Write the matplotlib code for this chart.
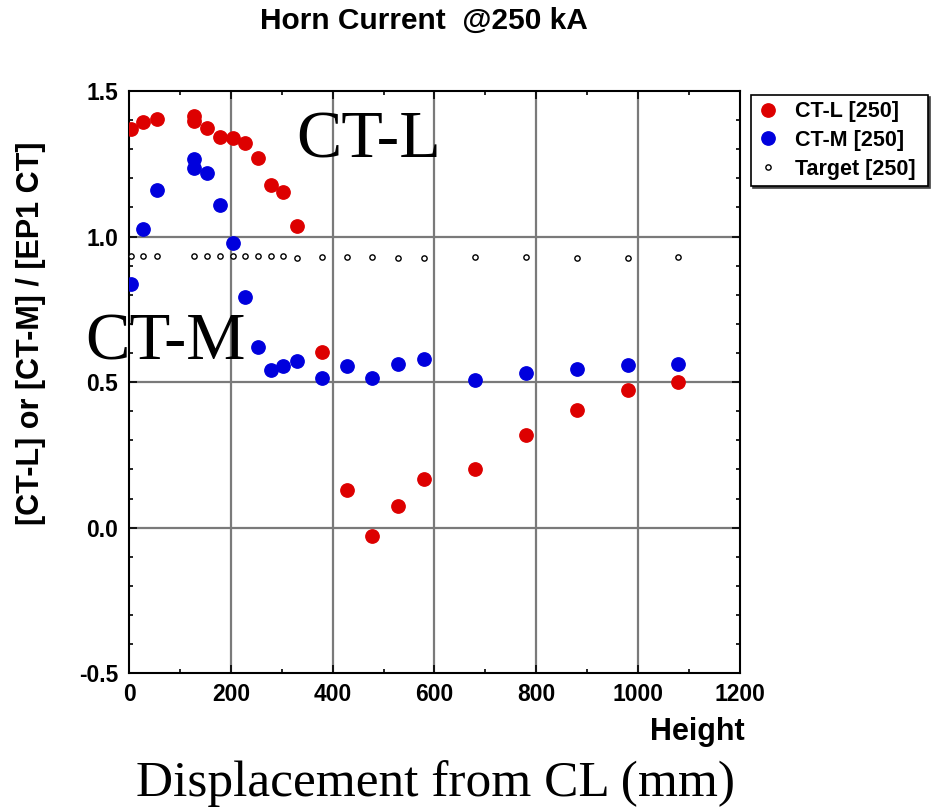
import matplotlib
matplotlib.use("Agg")
import matplotlib.pyplot as plt
from matplotlib.ticker import MultipleLocator

plt.rcParams['font.family'] = ['Liberation Sans', 'DejaVu Sans']

# CT-L [250]
ctl_x = [3, 27, 54, 127, 127, 152, 178, 203, 227, 253, 278, 303, 329,
         378, 429, 478, 529, 579, 679, 780, 880, 980, 1080]
ctl_y = [1.369, 1.392, 1.404, 1.414, 1.397, 1.374, 1.343, 1.337, 1.320, 1.271,
         1.177, 1.154, 1.037, 0.604, 0.129, -0.029, 0.074, 0.169, 0.203,
         0.320, 0.406, 0.473, 0.501]

# CT-M [250]
ctm_x = [3, 27, 54, 127, 127, 152, 178, 203, 227, 253, 278, 303, 329,
         378, 429, 478, 529, 579, 679, 780, 880, 980, 1080]
ctm_y = [0.837, 1.025, 1.160, 1.265, 1.236, 1.217, 1.108, 0.979, 0.791, 0.621,
         0.541, 0.555, 0.573, 0.513, 0.555, 0.514, 0.563, 0.580, 0.509,
         0.532, 0.546, 0.558, 0.563]

# Target [250]
tgt_x = [3, 27, 54, 127, 152, 178, 203, 227, 253, 278, 303, 329,
         378, 429, 478, 529, 579, 679, 780, 880, 980, 1080]
tgt_y = [0.933, 0.933, 0.933, 0.933, 0.933, 0.933, 0.933, 0.933, 0.933, 0.933,
         0.933, 0.927, 0.931, 0.931, 0.931, 0.925, 0.925, 0.931, 0.931,
         0.925, 0.925, 0.931]

W, H = 934, 807
fig = plt.figure(figsize=(W / 100, H / 100), dpi=100)
ax = fig.add_axes([129.3 / W, 1 - 673.3 / H, (739.5 - 129.3) / W, (673.3 - 91) / H])

ax.set_xlim(0, 1200)
ax.set_ylim(-0.5, 1.5)

# grid lines at the major divisions
for gx in [200, 400, 600, 800, 1000]:
    ax.axvline(gx, color='#7a7a7a', lw=1.6, zorder=1)
for gy in [0.0, 0.5, 1.0]:
    ax.axhline(gy, color='#7a7a7a', lw=1.6, zorder=1)

ax.plot(ctl_x, ctl_y, 'o', color='#dd0000', ms=9.6, mec='#dd0000', zorder=3, label='CT-L [250]')
ax.plot(ctm_x, ctm_y, 'o', color='#0000dd', ms=9.6, mec='#0000dd', zorder=3, label='CT-M [250]')
ax.plot(tgt_x, tgt_y, 'o', mfc='white', mec='black', ms=3.8, mew=1.0, zorder=3, label='Target [250]')

ax.xaxis.set_major_locator(MultipleLocator(200))
ax.xaxis.set_minor_locator(MultipleLocator(100))
ax.yaxis.set_major_locator(MultipleLocator(0.5))
ax.yaxis.set_minor_locator(MultipleLocator(0.1))
ax.yaxis.set_major_formatter(plt.FuncFormatter(lambda v, p: f'{v:.1f}'))
ax.tick_params(which='both', direction='in', top=True, right=True, width=1.2)
ax.tick_params(which='major', length=6)
ax.tick_params(which='minor', length=3)
ax.tick_params(axis='both', labelsize=16.5)
ax.tick_params(axis='x', pad=7)
ax.tick_params(axis='y', pad=8)
for lab in ax.get_xticklabels() + ax.get_yticklabels():
    lab.set_fontweight('bold')
for sp in ax.spines.values():
    sp.set_linewidth(1.5)

leg = ax.legend(loc='upper left', bbox_to_anchor=(751 / W, 1 - 193 / H, (928 - 751) / W, (193 - 95) / H),
                bbox_transform=fig.transFigure, mode='expand', fancybox=False,
                edgecolor='black', framealpha=1, borderpad=0.3, labelspacing=0.35,
                handletextpad=0.75, handlelength=1.0, borderaxespad=0,
                prop={'weight': 'bold', 'size': 15.5},
                shadow={'color': '#444444', 'alpha': 1, 'ox': 1.2, 'oy': -1.2})
leg.get_frame().set_linewidth(1.2)

fig.text(424 / W, 1 - 21 / H, 'Horn Current  @250 kA', ha='center', va='center',
         fontsize=21.5, fontweight='bold')
fig.text(31 / W, 1 - 333 / H, '[CT-L] or [CT-M] / [EP1 CT]', ha='center', va='center',
         rotation=90, fontsize=22, fontweight='bold')
fig.text(745 / W, 1 - 740 / H, 'Height', ha='right', va='baseline',
         fontsize=22, fontweight='bold')

fig.text(296 / W, 1 - 158 / H, 'CT-L', ha='left', va='baseline',
         fontsize=49, family='Liberation Serif')
fig.text(85 / W, 1 - 359 / H, 'CT-M', ha='left', va='baseline',
         fontsize=48, family='Liberation Serif')
fig.text(436 / W, 1 - 796 / H, 'Displacement from CL (mm)', ha='center', va='baseline',
         fontsize=37, family='Liberation Serif')

fig.savefig('out.png', dpi=100)
